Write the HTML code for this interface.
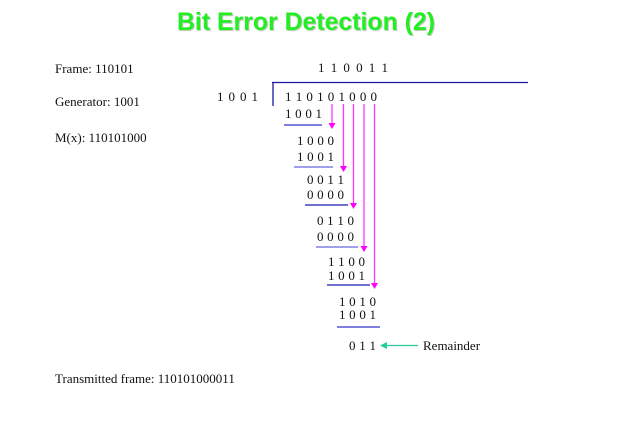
<!DOCTYPE html>
<html><head><meta charset="utf-8"><style>
html,body{margin:0;padding:0;background:#fff;}
svg{display:block;}
text{font-family:"Liberation Serif",serif;font-size:13px;fill:#111;}
.t{font-family:"Liberation Sans",sans-serif;font-weight:bold;font-size:25px;fill:#22ee22;}
</style></head><body>
<svg width="631" height="427" viewBox="0 0 631 427" xmlns="http://www.w3.org/2000/svg">
<text class="t" x="306" y="30" text-anchor="middle" textLength="258" lengthAdjust="spacingAndGlyphs" style="fill:#c8c8c8" dx="1" dy="1">Bit Error Detection (2)</text>
<text class="t" x="306" y="30" text-anchor="middle" textLength="258" lengthAdjust="spacingAndGlyphs">Bit Error Detection (2)</text>

<text x="55" y="73">Frame: 110101</text>
<text x="55" y="106">Generator: 1001</text>
<text x="55" y="142">M(x): 110101000</text>
<text x="55" y="383">Transmitted frame: 110101000011</text>

<text x="318" y="72" textLength="70">1 1 0 0 1 1</text>
<line x1="272" y1="82.5" x2="528" y2="82.5" stroke="#1a1aa0" stroke-width="1.3"/>
<line x1="273" y1="82" x2="273" y2="106" stroke="#1a1aa0" stroke-width="1.3"/>
<text x="217" y="101" textLength="41">1 0 0 1</text>
<text x="285" y="101" textLength="92">1 1 0 1 0 1 0 0 0</text>

<text x="285" y="118" textLength="37">1 0 0 1</text>
<line x1="284" y1="125" x2="322" y2="125" stroke="#3333cc" stroke-width="1.2"/>
<text x="297" y="145" textLength="37">1 0 0 0</text>
<text x="297" y="161" textLength="37">1 0 0 1</text>
<line x1="294" y1="167" x2="333" y2="167" stroke="#6666dd" stroke-width="1.2"/>
<text x="307" y="184" textLength="37">0 0 1 1</text>
<text x="307" y="199" textLength="37">0 0 0 0</text>
<line x1="305" y1="205" x2="348" y2="205" stroke="#1a1ab0" stroke-width="1.2"/>
<text x="317" y="225" textLength="37">0 1 1 0</text>
<text x="317" y="241" textLength="37">0 0 0 0</text>
<line x1="316" y1="247" x2="358" y2="247" stroke="#6666dd" stroke-width="1.2"/>
<text x="328" y="266" textLength="37">1 1 0 0</text>
<text x="328" y="280" textLength="37">1 0 0 1</text>
<line x1="327" y1="285" x2="370" y2="285" stroke="#1a1ab0" stroke-width="1.2"/>
<text x="339" y="306" textLength="37">1 0 1 0</text>
<text x="339" y="319" textLength="37">1 0 0 1</text>
<line x1="337" y1="327" x2="380" y2="327" stroke="#3333cc" stroke-width="1.2"/>
<text x="349" y="350" textLength="27">0 1 1</text>

<g stroke="#ff33ff" stroke-width="1.3" fill="#ff00ff">
<line x1="332" y1="104" x2="332" y2="124"/><polygon points="328.5,123 335.5,123 332,129" stroke="none"/>
<line x1="343.5" y1="104" x2="343.5" y2="167"/><polygon points="340,166 347,166 343.5,172" stroke="none"/>
<line x1="353.5" y1="104" x2="353.5" y2="204"/><polygon points="350,203 357,203 353.5,209" stroke="none"/>
<line x1="364" y1="104" x2="364" y2="247"/><polygon points="360.5,246 367.5,246 364,252" stroke="none"/>
<line x1="374.5" y1="104" x2="374.5" y2="284"/><polygon points="371,283 378,283 374.5,289" stroke="none"/>
</g>
<line x1="385" y1="345.5" x2="418" y2="345.5" stroke="#22cc99" stroke-width="1.3"/>
<polygon points="380,345.5 387,342 387,349" fill="#22cc99"/>
<text x="423" y="350">Remainder</text>
</svg>
</body></html>
